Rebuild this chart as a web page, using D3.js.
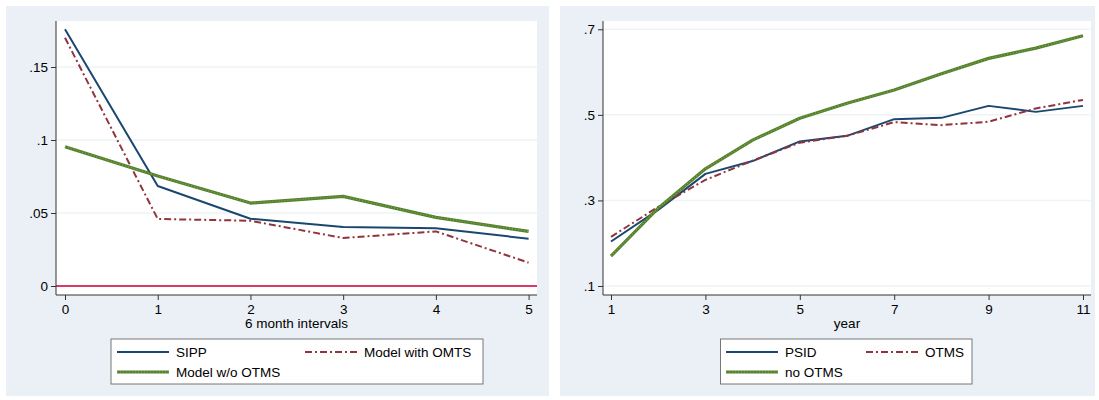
<!DOCTYPE html>
<html><head><meta charset="utf-8">
<script src="https://cdn.jsdelivr.net/npm/d3@7"></script>
<style>body{margin:0;background:#fff}svg{display:block}text{font-family:"Liberation Sans",Arial,sans-serif;fill:#000}</style>
</head><body><svg id="c" width="1099" height="400"></svg>
<script>
// Left panel data
const intervals = [0,1,2,3,4,5];
const sipp = [0.1758,0.0685,0.0461,0.0404,0.0395,0.0324];
const modelOMTS = [0.170,0.0459,0.0447,0.0329,0.0374,0.016];
const modelNoOTMS = [0.0954,0.0753,0.0568,0.0614,0.047,0.0374];
const leftYTicks = [0,0.05,0.1,0.15];
const leftYLabels = ["0",".05",".1",".15"];
// Right panel data
const years = [1,2,3,4,5,6,7,8,9,10,11];
const psid = [0.204,0.278,0.362,0.392,0.438,0.451,0.490,0.493,0.521,0.507,0.521];
const otms = [0.215,0.285,0.348,0.393,0.435,0.451,0.483,0.476,0.484,0.515,0.535];
const noOtms = [0.170,0.282,0.374,0.441,0.492,0.527,0.558,0.596,0.632,0.656,0.685];
const rightYTicks = [0.1,0.3,0.5,0.7];
const rightYLabels = [".1",".3",".5",".7"];
const rightXTicks = [1,3,5,7,9,11];

const C = {navy:"#1a476f", maroon:"#90353b", green:"#55802c", red:"#dc3a66", bg:"#eaf0f5", grid:"#eef3f6"};
const svg = d3.select("#c");

const styles = {
  solid: {stroke:C.navy, w:2, dash:null},
  dashdot: {stroke:C.maroon, w:2, dash:"7,3,2,3"},
  green: {stroke:C.green, w:3.2, dash:null}
};

function drawLine(g, xs, ys, x, y, st){
  const line = d3.line().x((d,i)=>x(xs[i])).y(d=>y(d));
  const p = g.append("path").datum(ys).attr("d", line).attr("fill","none")
    .attr("stroke", st.stroke).attr("stroke-width", st.w).attr("stroke-linejoin","round");
  if (st.dash) p.attr("stroke-dasharray", st.dash);
  if (st === styles.green) {
    g.append("path").datum(ys).attr("d", line).attr("fill","none")
     .attr("stroke","#8cb562").attr("stroke-width",1.2).attr("stroke-dasharray","1,2").attr("opacity",0.8);
  }
}

function legendSample(g, x1, x2, yy, st){
  const p = g.append("line").attr("x1",x1).attr("x2",x2).attr("y1",yy).attr("y2",yy)
    .attr("stroke",st.stroke).attr("stroke-width",st.w);
  if (st.dash) p.attr("stroke-dasharray", st.dash);
  if (st === styles.green) {
    g.append("line").attr("x1",x1).attr("x2",x2).attr("y1",yy).attr("y2",yy)
     .attr("stroke","#8cb562").attr("stroke-width",1.2).attr("stroke-dasharray","1,2").attr("opacity",0.8);
  }
}

function panel(cfg){
  const g = svg.append("g");
  g.append("rect").attr("x",cfg.bx).attr("y",6).attr("width",cfg.bw).attr("height",390).attr("fill",C.bg);
  g.append("rect").attr("x",cfg.px0).attr("y",21).attr("width",cfg.px1-cfg.px0).attr("height",274).attr("fill","#fff");
  const x = d3.scaleLinear().domain(cfg.xdom).range(cfg.xr);
  const y = d3.scaleLinear().domain(cfg.ydom).range(cfg.yr);
  // grid
  g.selectAll(".grid").data(cfg.yticks).enter().append("line")
    .attr("x1",cfg.px0).attr("x2",cfg.px1).attr("y1",d=>y(d)).attr("y2",d=>y(d))
    .attr("stroke",C.grid).attr("stroke-width",1.5);
  if (cfg.zeroLine) {
    g.append("line").attr("x1",cfg.px0).attr("x2",cfg.px1).attr("y1",y(0)).attr("y2",y(0))
      .attr("stroke",C.red).attr("stroke-width",1.8);
  }
  // axes
  const ya = d3.axisLeft(y).tickValues(cfg.yticks).tickFormat((d,i)=>cfg.ylabels[i]).tickSize(5).tickPadding(3);
  const yg = g.append("g").attr("transform",`translate(${cfg.px0},0)`).call(ya);
  yg.select(".domain").remove();
  yg.append("line").attr("x1",0).attr("x2",0).attr("y1",21).attr("y2",295).attr("stroke","#333");
  const xa = d3.axisBottom(x).tickValues(cfg.xticks).tickFormat(d3.format("d")).tickSize(5).tickPadding(4);
  const xg = g.append("g").attr("transform","translate(0,295)").call(xa);
  xg.select(".domain").remove();
  xg.append("line").attr("x1",cfg.px0).attr("x2",cfg.px1).attr("y1",0).attr("y2",0).attr("stroke","#333");
  g.selectAll(".tick line").attr("stroke","#333");
  g.selectAll(".tick text").style("font-size","13.5px").attr("fill","#000").style("font-family",'"Liberation Sans",Arial,sans-serif');
  // title
  g.append("text").attr("x",(cfg.px0+cfg.px1)/2).attr("y",328).attr("text-anchor","middle")
    .style("font-size","13.5px").text(cfg.xtitle);
  // series
  const pg = g.append("g");
  cfg.series.forEach(s=>drawLine(pg, cfg.xs, s.v, x, y, s.st));
  // legend
  const L = cfg.legend;
  g.append("rect").attr("x",L.x).attr("y",339).attr("width",L.w).attr("height",45)
    .attr("fill","#fff").attr("stroke","#777").attr("stroke-width",1);
  const pos = [[L.c1,352],[L.c2,352],[L.c1,372]];
  cfg.series.forEach((s,i)=>{
    const [cx,cy] = pos[i];
    legendSample(g, cx, cx+52, cy, s.st);
    g.append("text").attr("x",cx+59).attr("y",cy+5).style("font-size","13.5px").text(s.name);
  });
}

panel({bx:6,bw:543,px0:56,px1:537,xdom:[0,5],xr:[65,528.6],ydom:[0,0.15],yr:[286,67],
  yticks:leftYTicks,ylabels:leftYLabels,xticks:intervals,xs:intervals,zeroLine:true,
  xtitle:"6 month intervals",
  series:[{name:"SIPP",v:sipp,st:styles.solid},{name:"Model with OMTS",v:modelOMTS,st:styles.dashdot},{name:"Model w/o OTMS",v:modelNoOTMS,st:styles.green}],
  legend:{x:111,w:372,c1:117,c2:305}});
panel({bx:560,bw:535,px0:603,px1:1091,xdom:[1,11],xr:[611,1083],ydom:[0.1,0.7],yr:[286,29.3],
  yticks:rightYTicks,ylabels:rightYLabels,xticks:rightXTicks,xs:years,zeroLine:false,
  xtitle:"year",
  series:[{name:"PSID",v:psid,st:styles.solid},{name:"OTMS",v:otms,st:styles.dashdot},{name:"no OTMS",v:noOtms,st:styles.green}],
  legend:{x:720.5,w:251.5,c1:726,c2:866}});
</script></body></html>
